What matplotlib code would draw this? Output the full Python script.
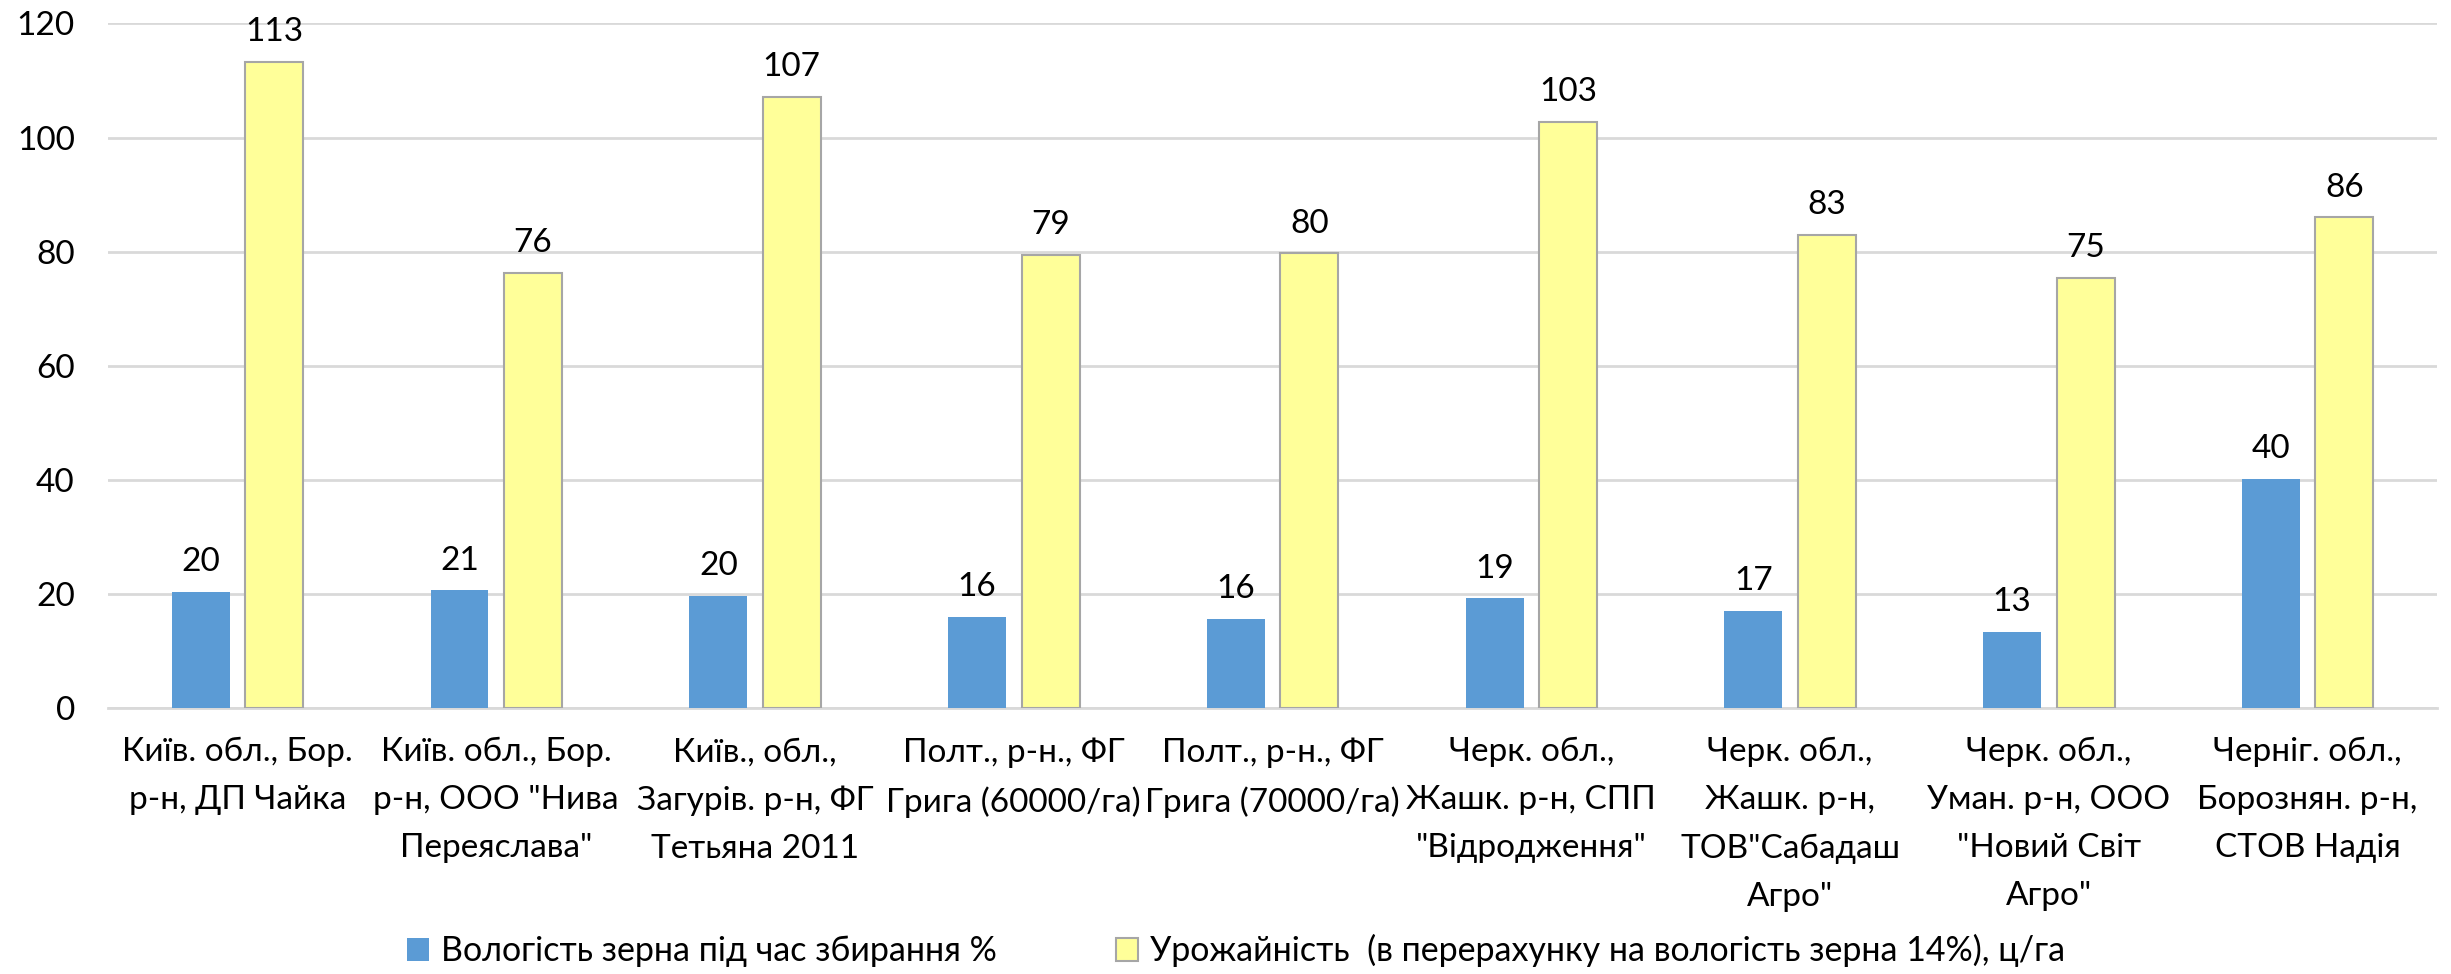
import matplotlib.pyplot as plt
import numpy as np

# Категорії (господарства)
господарства = [
    "Київ. обл., Бор.\nр-н, ДП Чайка",
    "Київ. обл., Бор.\nр-н, ООО \"Нива\nПереяслава\"",
    "Київ., обл.,\nЗагурів. р-н, ФГ\nТетьяна 2011",
    "Полт., р-н., ФГ\nГрига (60000/га)",
    "Полт., р-н., ФГ\nГрига (70000/га)",
    "Черк. обл.,\nЖашк. р-н, СПП\n\"Відродження\"",
    "Черк. обл.,\nЖашк. р-н,\nТОВ\"Сабадаш\nАгро\"",
    "Черк. обл.,\nУман. р-н, ООО\n\"Новий Світ\nАгро\"",
    "Черніг. обл.,\nБорознян. р-н,\nСТОВ Надія",
]

вологість = [20.4, 20.6, 19.7, 15.9, 15.6, 19.2, 17.0, 13.4, 40.2]
урожайність = [113.3, 76.2, 107.1, 79.4, 79.7, 102.7, 83.0, 75.4, 86.0]

назва_вологість = "Вологість зерна під час збирання %"
назва_урожайність = "Урожайність  (в перерахунку на вологість зерна 14%), ц/га"

plt.rcParams['font.family'] = ['Lato', 'DejaVu Sans']
розмір = 24

fig = plt.figure(figsize=(24.51, 9.74), dpi=100)
ax = fig.add_axes([0.0441, 0.2731, 0.9502, 0.7028])

x = np.arange(len(господарства))
ширина = 0.224
зсув = 0.142

стовпці1 = ax.bar(x - зсув, вологість, width=ширина, color="#5B9BD5", label=назва_вологість, zorder=3)
стовпці2 = ax.bar(x + зсув, урожайність, width=ширина, color="#FFFF99", edgecolor="#A6A6A6",
                  linewidth=1.5, label=назва_урожайність, zorder=3)

# Підписи значень над стовпцями
for стовпці in (стовпці1, стовпці2):
    for с in стовпці:
        h = с.get_height()
        ax.annotate(f"{round(h):d}", (с.get_x() + с.get_width() / 2, h),
                    xytext=(0, 15), textcoords="offset points",
                    ha="center", va="baseline", fontsize=розмір)

ax.set_xlim(-0.5, len(господарства) - 0.5)
ax.set_ylim(0, 120)
ax.set_yticks(range(0, 121, 20))
ax.set_xticks(x)
ax.set_xticklabels(господарства, fontsize=розмір, linespacing=1.75, va="top")
ax.tick_params(axis="y", labelsize=розмір, length=0, pad=24)
ax.tick_params(axis="x", length=0, pad=21)

ax.grid(axis="y", color="#D9D9D9", linewidth=2, zorder=0)
for s in ["top", "right", "left"]:
    ax.spines[s].set_visible(False)
ax.spines["bottom"].set_color("#D9D9D9")
ax.spines["bottom"].set_linewidth(2)

fig.legend(loc="center left", bbox_to_anchor=(0.1535, 0.024), ncol=2, frameon=False,
           fontsize=24.5, handlelength=0.65, handleheight=0.65, handletextpad=0.35,
           columnspacing=3.5)

fig.savefig("out.png", dpi=100)
